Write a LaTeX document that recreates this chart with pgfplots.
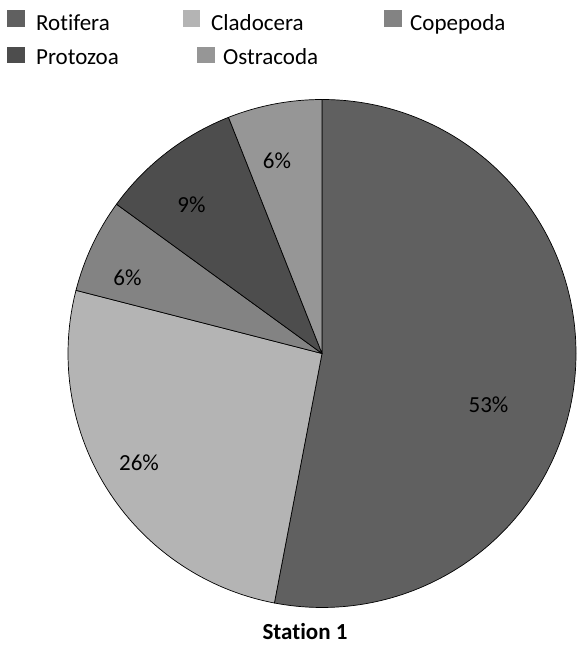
\documentclass[border=0pt]{standalone}
\usepackage{pgfplots}
\usepackage{pgfplotstable}
\pgfplotsset{compat=1.18}
\usepackage{fontspec}
\setmainfont[Ligatures={NoCommon}]{Carlito}
\definecolor{c0}{HTML}{606060}
\definecolor{c1}{HTML}{B4B4B4}
\definecolor{c2}{HTML}{838383}
\definecolor{c3}{HTML}{4D4D4D}
\definecolor{c4}{HTML}{969696}
\pgfplotstableread{
name value
Rotifera 53
Cladocera 26
Copepoda 6
Protozoa 9
Ostracoda 6
}\piedata
\begin{document}
\begin{tikzpicture}
\begin{axis}[
  width=575pt, height=646pt, scale only axis,
  xmin=0, xmax=575, ymin=-646, ymax=0,
  hide axis, clip=false,
]
\path (axis cs:0,0) rectangle (axis cs:575,-646);
\def\acc{90}
\pgfplotsforeachungrouped \i in {0,...,4}{%
  \pgfplotstablegetelem{\i}{value}\of\piedata
  \pgfmathsetmacro\sweep{\pgfplotsretval*3.6}%
  \pgfmathsetmacro\endang{\acc-\sweep}%
  \edef\temp{\noexpand\filldraw[fill=c\i, draw=black, line width=0.7pt, line join=round]
    (axis cs:322,-353.5) -- ([shift={(\acc:254pt)}]axis cs:322,-353.5)
    arc[start angle=\acc, end angle=\endang, radius=254pt] -- cycle;}%
  \temp
  \let\acc\endang
}
% slice labels
\node[font=\fontsize{23}{27}\selectfont] at (axis cs:488.5,-405) {53\%};
\node[font=\fontsize{23}{27}\selectfont] at (axis cs:139,-463) {26\%};
\node[font=\fontsize{23}{27}\selectfont] at (axis cs:127.5,-278) {6\%};
\node[font=\fontsize{23}{27}\selectfont] at (axis cs:191.5,-204.5) {9\%};
\node[font=\fontsize{23}{27}\selectfont] at (axis cs:277,-161) {6\%};
% legend
\fill[c0] (axis cs:7,-10) rectangle (axis cs:25,-27);
\node[anchor=base west, inner sep=0pt, font=\fontsize{23}{27}\selectfont] at (axis cs:36,-31) {Rotifera};
\fill[c1] (axis cs:183,-10) rectangle (axis cs:200,-27);
\node[anchor=base west, inner sep=0pt, font=\fontsize{23}{27}\selectfont] at (axis cs:211,-31) {Cladocera};
\fill[c2] (axis cs:384,-10) rectangle (axis cs:402,-27);
\node[anchor=base west, inner sep=0pt, font=\fontsize{23}{27}\selectfont] at (axis cs:410,-31) {Copepoda};
\fill[c3] (axis cs:7,-47) rectangle (axis cs:25,-63);
\node[anchor=base west, inner sep=0pt, font=\fontsize{23}{27}\selectfont] at (axis cs:36,-65) {Protozoa};
\fill[c4] (axis cs:197,-47) rectangle (axis cs:215,-63);
\node[anchor=base west, inner sep=0pt, font=\fontsize{23}{27}\selectfont] at (axis cs:223,-65) {Ostracoda};
% title
\node[anchor=base, inner sep=0pt, font=\bfseries\fontsize{23}{27}\selectfont] at (axis cs:305,-640) {Station 1};
\end{axis}
\end{tikzpicture}
\end{document}
